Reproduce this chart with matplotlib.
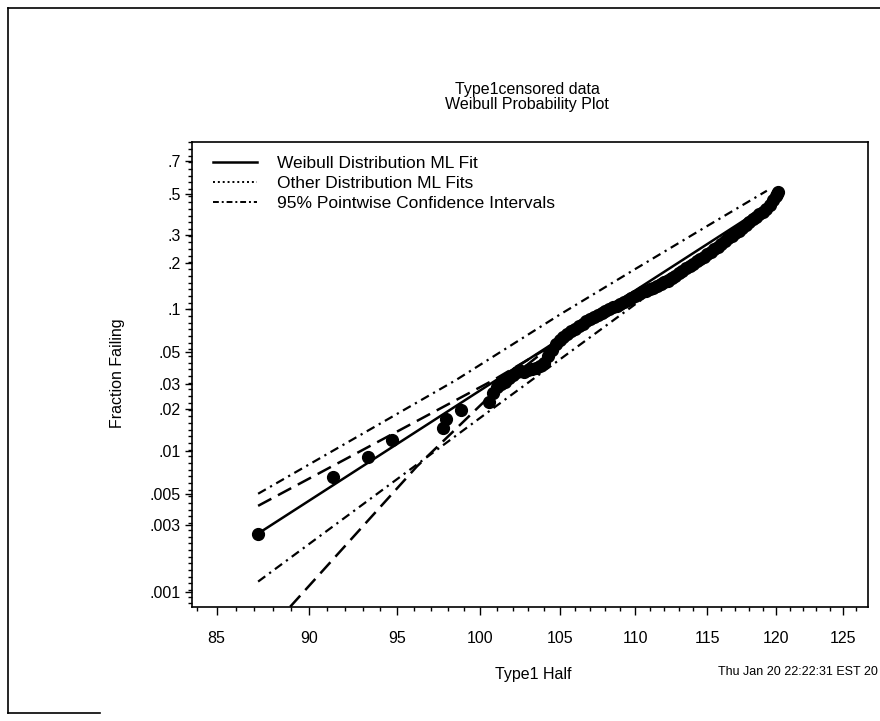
import numpy as np
import matplotlib
matplotlib.use("Agg")
import matplotlib.pyplot as plt
from matplotlib.lines import Line2D
from matplotlib.ticker import FixedLocator, FixedFormatter, NullFormatter

plt.rcParams['font.family'] = ['Liberation Sans', 'DejaVu Sans']

# failure times (Type1 Half) and plotting positions (fraction failing)
fail_x = [87.2, 91.3, 93.3, 94.7, 97.7, 97.9, 98.8, 100.5, 100.8,
          101.00, 101.25, 101.50, 101.75, 102.00, 102.25, 102.50, 102.75,
          103.00, 103.25, 103.50, 103.75, 104.00, 104.25, 104.50, 104.75,
          105.00, 105.25, 105.50, 105.75, 106.00, 106.25, 106.50, 106.75,
          107.00, 107.25, 107.50, 107.75, 108.00, 108.25, 108.50, 108.75,
          109.00, 109.25, 109.50, 109.75, 110.00, 110.25, 110.50, 110.75,
          111.00, 111.25, 111.50, 111.75, 112.00, 112.25, 112.50, 112.75,
          113.00, 113.25, 113.50, 113.75, 114.00, 114.25, 114.50, 114.75,
          115.00, 115.25, 115.50, 115.75, 116.00, 116.25, 116.50, 116.75,
          117.00, 117.25, 117.50, 117.75, 118.00, 118.25, 118.50, 118.75,
          119.00, 119.25, 119.50, 119.75, 120.00, 120.05, 120.1]
fail_p = [0.0026, 0.0066, 0.0092, 0.0120, 0.0147, 0.0169, 0.0197, 0.0224, 0.0260,
          0.0285, 0.0300, 0.0310, 0.0330, 0.0345, 0.0362, 0.0370, 0.0365,
          0.0375, 0.0385, 0.0390, 0.0400, 0.0420, 0.0470, 0.0520, 0.0570,
          0.0610, 0.0640, 0.0670, 0.0700, 0.0730, 0.0760, 0.0790, 0.0820,
          0.0850, 0.0880, 0.0905, 0.0930, 0.0960, 0.0990, 0.1020, 0.1050,
          0.1080, 0.1110, 0.1140, 0.1180, 0.1220, 0.1260, 0.1290, 0.1320,
          0.1350, 0.1380, 0.1420, 0.1460, 0.1500, 0.1540, 0.1600, 0.1660,
          0.1720, 0.1790, 0.1860, 0.1920, 0.1980, 0.2050, 0.2120, 0.2200,
          0.2280, 0.2360, 0.2440, 0.2540, 0.2640, 0.2740, 0.2850, 0.2960,
          0.3060, 0.3160, 0.3270, 0.3400, 0.3540, 0.3680, 0.3800, 0.3920,
          0.4050, 0.4200, 0.4400, 0.4650, 0.4900, 0.5000, 0.5100]

# Weibull ML fit
weib_x = [87.2, 120.0]
weib_p = [0.0026, 0.47]

# other distribution ML fits
other1_x = [87.2, 100.8, 105.0, 110.0, 115.0, 120.0]
other1_p = [0.0041, 0.032, 0.060, 0.122, 0.232, 0.47]
other2_x = [88.94, 96.15, 101.2, 105.0, 110.0, 115.0, 120.0]
other2_p = [0.00078, 0.0078, 0.0288, 0.062, 0.125, 0.235, 0.48]

# 95% pointwise confidence intervals
ci_up_x = [87.2, 98.5, 105.0, 110.0, 115.0, 119.3]
ci_up_p = [0.0050, 0.032, 0.091, 0.183, 0.337, 0.52]
ci_lo_x = [87.2, 100.8, 110.0, 118.1, 119.5]
ci_lo_p = [0.00118, 0.0203, 0.107, 0.357, 0.41]

x_ticks = [85, 90, 95, 100, 105, 110, 115, 120, 125]
y_ticks = [0.001, 0.003, 0.005, 0.01, 0.02, 0.03, 0.05, 0.1, 0.2, 0.3, 0.5, 0.7]
y_labels = ['.001', '.003', '.005', '.01', '.02', '.03', '.05', '.1', '.2', '.3', '.5', '.7']


def weib_fwd(p):
    p = np.clip(np.asarray(p, dtype=float), 1e-12, 1 - 1e-12)
    return np.log(-np.log(1 - p))


def weib_inv(g):
    return 1 - np.exp(-np.exp(np.asarray(g, dtype=float)))


W, H = 880, 721
fig = plt.figure(figsize=(W / 100, H / 100), dpi=100)
ax = fig.add_axes([192 / W, 1 - 607 / H, (868 - 192) / W, (607 - 141.7) / H])

ax.set_xscale('log')
ax.set_yscale('function', functions=(weib_fwd, weib_inv))
ax.set_xlim(83.72, 126.97)
ax.set_ylim(7.77e-4, 0.807)

ax.plot(ci_up_x, ci_up_p, color='black', lw=1.6, ls=(0, (4, 2.2, 1, 2.2)))
ax.plot(ci_lo_x, ci_lo_p, color='black', lw=1.6, ls=(0, (4, 2.2, 1, 2.2)))
ax.plot(other1_x, other1_p, color='black', lw=1.8, ls=(0, (6, 3)))
ax.plot(other2_x, other2_p, color='black', lw=1.8, ls=(0, (6, 3)))
ax.plot(weib_x, weib_p, color='black', lw=1.8)
ax.plot(fail_x, fail_p, 'o', color='black', ms=8.5, mec='black')

# axis ticks
ax.xaxis.set_major_locator(FixedLocator(x_ticks))
ax.xaxis.set_major_formatter(FixedFormatter([str(t) for t in x_ticks]))
ax.xaxis.set_minor_locator(FixedLocator(np.arange(84, 127, 1)))
ax.xaxis.set_minor_formatter(NullFormatter())
ax.yaxis.set_major_locator(FixedLocator(y_ticks))
ax.yaxis.set_major_formatter(FixedFormatter(y_labels))
ax.yaxis.set_minor_locator(FixedLocator(weib_inv(np.arange(-7.1, 0.5, 0.11))))
ax.yaxis.set_minor_formatter(NullFormatter())

ax.tick_params(axis='both', which='both', direction='out', top=False, right=False,
               color='black', width=1.0)
ax.tick_params(axis='x', which='major', length=6, pad=11, labelsize=11.5)
ax.tick_params(axis='x', which='minor', length=3)
ax.tick_params(axis='y', which='major', length=5, pad=3, labelsize=11.5)
ax.tick_params(axis='y', which='minor', length=3)
for s in ax.spines.values():
    s.set_linewidth(1.2)

# legend
handles = [Line2D([], [], color='black', lw=1.8),
           Line2D([], [], color='black', lw=1.4, ls=(0, (1, 1.5))),
           Line2D([], [], color='black', lw=1.4, ls=(0, (3, 1.5, 1, 1.5)))]
labels = ['Weibull Distribution ML Fit', 'Other Distribution ML Fits',
          '95% Pointwise Confidence Intervals']
ax.legend(handles, labels, loc='upper left', bbox_to_anchor=(0.021, 0.985),
          frameon=False, fontsize=12.5, handlelength=2.5, handletextpad=1.2,
          labelspacing=0.29, borderaxespad=0)

# texts
fig.text(527 / W, 1 - 97 / H, 'Type1censored data\nWeibull Probability Plot',
         ha='center', va='center', fontsize=11.5, linespacing=1.05)
fig.text(117 / W, 1 - 373 / H, 'Fraction Failing', rotation=90,
         ha='center', va='center', fontsize=11.5)
fig.text(533 / W, 1 - 675 / H, 'Type1 Half', ha='center', va='center', fontsize=11.5)
fig.text(878 / W, 1 - 672 / H, 'Thu Jan 20 22:22:31 EST 20', ha='right',
         va='center', fontsize=9)

# page frame
fig.add_artist(Line2D([8 / W, 8 / W], [1 - 8 / H, 1 - 713 / H], color='black', lw=1.2,
                      transform=fig.transFigure))
fig.add_artist(Line2D([8 / W, 1.0], [1 - 8 / H, 1 - 8 / H], color='black', lw=1.2,
                      transform=fig.transFigure))
fig.add_artist(Line2D([8 / W, 100 / W], [1 - 713 / H, 1 - 713 / H], color='black', lw=1.2,
                      transform=fig.transFigure))

fig.savefig('out.png', dpi=100)
